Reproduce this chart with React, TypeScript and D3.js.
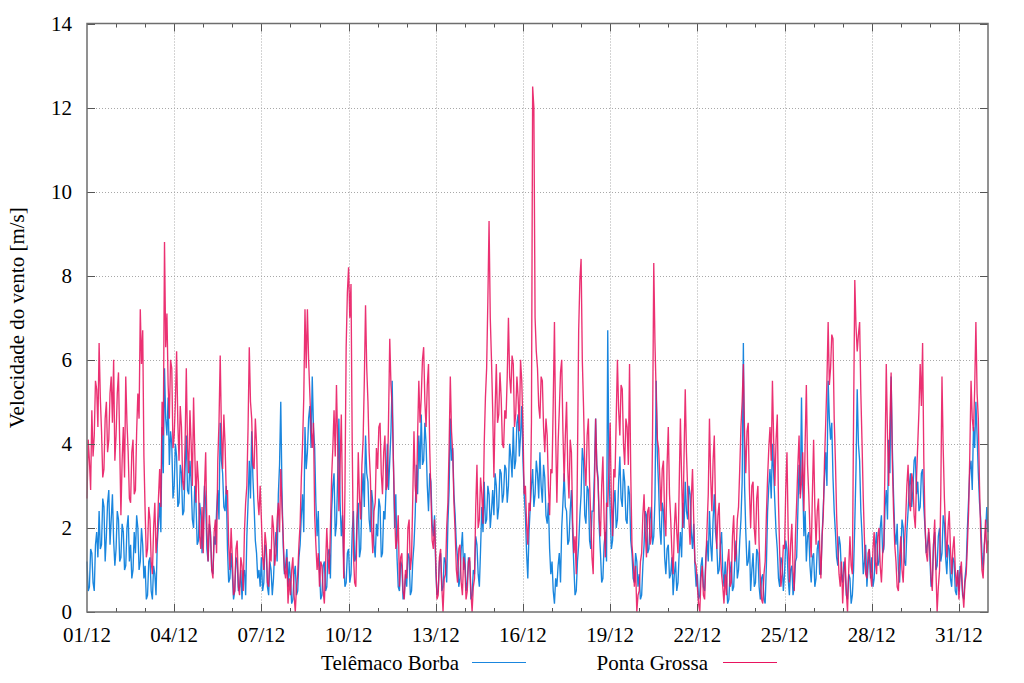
import React from "react";
import * as d3 from "d3";

// Wind speed, m/s, hourly, 01/12 00:00 .. 01/01 00:00
const telemacoBorba: number[] = [
  // 01/12
  1.2,0.5, 0.6,1.5, 1.4,0.7, 0.5,1.6, 1.9,1.3, 2.4,1.5, 1.6,2.7, 2.5,1.2, 1.8,2.6, 2.9,1.6, 2.2,2.8, 1.7,1.1,
  // 02/12
  1.5,2.4, 2.2,1.2, 1.3,2.1, 1.9,1.0, 1.1,2.0, 2.3,1.2, 1.6,0.8, 1.0,1.9, 1.4,2.3, 2.0,1.0, 1.2,2.0, 1.6,0.8,
  // 03/12
  1.1,0.3, 0.4,1.2, 1.3,0.5, 0.3,1.1, 0.9,0.4, 1.6,2.1, 2.6,1.9, 4.4,3.3, 5.8,4.6, 4.2,5.1, 3.5,4.3, 4.0,2.7,
  // 04/12
  3.0,4.0, 3.7,2.5, 2.6,3.5, 3.3,2.3, 2.4,3.4, 4.2,2.9, 2.8,3.6, 3.1,2.2, 2.0,3.0, 2.6,1.6, 1.7,2.6, 2.3,1.4,
  // 05/12
  2.0,3.0, 2.6,1.5, 1.2,2.1, 1.9,1.0, 0.9,1.8, 1.6,2.4, 2.9,2.2, 4.5,3.6, 3.3,2.5, 2.4,3.0, 1.5,0.7, 0.8,1.4,
  // 06/12
  0.9,0.3, 0.5,1.3, 1.2,0.5, 0.6,1.0, 0.3,0.9, 1.0,0.4, 1.8,2.6, 3.6,2.7, 4.3,3.2, 2.5,1.7, 1.4,0.8, 1.0,0.6,
  // 07/12
  1.3,0.5, 0.7,1.6, 1.5,0.6, 0.4,1.2, 1.0,0.4, 0.8,1.5, 1.9,1.2, 2.8,3.5, 5.0,2.9, 1.6,0.9, 1.1,1.5, 0.6,1.2,
  // 08/12
  0.8,0.2, 0.3,0.9, 1.1,0.4, 0.5,1.3, 1.6,2.3, 2.8,1.9, 4.4,3.4, 3.8,4.6, 4.9,3.9, 5.6,4.4, 3.9,2.6, 1.8,2.4,
  // 09/12
  1.0,0.3, 0.4,1.1, 1.2,0.5, 0.6,1.4, 1.5,0.8, 2.4,3.0, 3.3,1.8, 2.1,3.2, 4.6,2.6, 1.8,2.3, 1.2,0.6, 0.7,1.4,
  // 10/12
  1.5,0.7, 0.9,1.9, 2.4,1.2, 1.3,2.2, 2.6,1.3, 1.5,2.7, 3.3,2.5, 4.2,3.3, 3.1,2.2, 1.9,2.9, 2.6,1.6, 1.3,2.1,
  // 11/12
  1.8,2.7, 2.5,1.3, 1.4,2.4, 2.2,3.0, 4.0,2.9, 3.6,4.3, 5.5,3.6, 2.0,2.8, 1.3,0.6, 0.5,1.2, 1.1,0.3, 0.4,0.9,
  // 12/12
  0.6,1.4, 1.3,0.4, 0.5,1.2, 1.6,2.3, 3.5,2.8, 4.2,3.4, 4.7,3.5, 3.6,4.5, 4.0,3.0, 2.4,3.3, 3.1,2.1, 1.8,2.3,
  // 13/12
  1.0,0.4, 0.5,1.2, 1.4,0.5, 0.6,1.3, 1.2,0.7, 2.1,2.9, 4.6,3.6, 3.9,2.8, 2.3,1.6, 1.3,0.6, 0.8,1.5, 1.9,1.0,
  // 14/12
  1.4,0.5, 0.7,1.3, 1.2,0.3, 0.4,1.0, 0.9,1.8, 1.6,0.9, 0.6,1.5, 2.5,1.9, 3.1,2.1, 2.2,3.0, 2.8,2.0, 2.4,2.9,
  // 15/12
  2.3,3.3, 3.0,2.2, 2.5,3.4, 3.3,2.6, 2.8,3.5, 3.4,2.6, 3.0,4.0, 3.7,3.2, 4.4,3.4, 3.6,4.5, 4.7,3.7, 4.2,4.9,
  // 16/12
  3.6,2.8, 2.3,1.4, 0.8,1.9, 2.5,3.0, 3.4,2.5, 2.8,3.6, 3.3,2.7, 3.8,3.0, 2.6,3.5, 3.2,2.3, 2.1,2.6, 1.5,0.9,
  // 17/12
  1.2,0.5, 0.2,0.8, 0.6,1.1, 1.4,0.7, 2.0,2.6, 3.3,2.5, 2.4,1.6, 1.7,2.4, 2.9,1.9, 1.1,0.4, 0.5,1.2, 1.6,2.3,
  // 18/12
  2.8,3.9, 3.6,2.3, 2.1,3.0, 2.9,1.7, 1.5,2.4, 2.4,3.3, 4.6,3.5, 3.2,2.0, 1.4,0.7, 0.8,1.6, 1.9,1.2, 6.7,3.4,
  // 19/12
  2.4,1.5, 1.7,2.6, 2.9,2.0, 2.2,3.1, 3.7,2.7, 2.5,3.4, 3.1,2.2, 2.1,3.0, 2.8,1.7, 1.4,0.8, 0.7,1.4, 1.2,0.6,
  // 20/12
  0.9,0.3, 0.4,1.1, 1.6,2.4, 2.3,1.4, 1.5,2.2, 2.5,1.6, 1.8,2.7, 5.5,3.7, 3.0,2.0, 1.6,2.6, 2.4,1.3, 0.9,1.5,
  // 21/12
  1.6,0.8, 0.9,1.3, 0.4,0.9, 1.2,0.5, 0.7,1.4, 1.9,1.3, 2.6,2.0, 3.1,2.4, 2.2,3.0, 2.8,1.9, 1.5,2.1, 1.1,0.6,
  // 22/12
  0.9,0.3, 0.4,1.1, 1.3,0.6, 0.5,1.3, 1.7,1.2, 2.4,1.6, 1.2,2.2, 2.8,1.9, 1.6,0.9, 1.0,1.6, 1.9,1.0, 0.6,1.2,
  // 23/12
  0.8,0.2, 0.3,0.9, 1.2,0.5, 0.6,1.3, 1.7,0.8, 1.0,1.7, 2.2,3.1, 6.4,3.0, 1.9,1.1, 1.2,1.7, 0.5,1.0, 1.4,0.6,
  // 24/12
  0.7,1.5, 1.4,0.6, 0.3,0.8, 0.9,0.3, 0.2,1.1, 2.4,3.0, 3.4,2.7, 4.0,3.3, 2.6,1.9, 1.5,0.8, 0.6,1.3, 1.2,0.5,
  // 25/12
  0.9,1.7, 1.5,0.8, 0.4,1.0, 1.1,0.4, 0.6,1.2, 1.3,2.4, 3.5,2.8, 5.1,3.0, 1.8,2.4, 1.2,1.8, 1.9,1.1, 0.7,1.3,
  // 26/12
  1.4,0.6, 0.8,1.5, 1.7,0.9, 0.9,1.8, 2.5,3.2, 3.8,3.0, 5.5,4.6, 4.1,4.5, 3.2,2.4, 1.9,1.3, 1.1,1.8, 1.6,0.9,
  // 27/12
  0.7,1.2, 1.0,0.4, 0.3,0.9, 0.8,0.2, 0.4,1.0, 2.1,3.4, 5.3,4.0, 3.6,2.4, 1.8,0.9, 1.2,1.6, 0.6,1.1, 1.5,0.8,
  // 28/12
  1.3,0.6, 0.8,1.6, 1.9,1.1, 1.2,2.0, 2.3,1.4, 1.5,2.5, 2.9,2.2, 4.1,3.3, 5.6,3.9, 2.8,1.9, 1.6,2.1, 1.0,0.7,
  // 29/12
  1.4,2.2, 2.0,1.2, 1.1,1.9, 2.4,3.0, 3.3,2.5, 2.9,3.6, 3.7,2.8, 3.1,2.4, 2.5,3.3, 3.4,2.5, 2.0,1.4, 1.6,1.9,
  // 30/12
  1.3,0.6, 0.8,1.6, 1.9,1.0, 1.1,1.8, 2.0,1.2, 1.4,2.3, 2.1,1.3, 0.9,1.6, 1.5,0.8, 0.6,1.3, 1.2,0.5, 0.4,1.0,
  // 31/12
  0.5,1.1, 0.9,0.4, 0.3,0.8, 1.1,2.0, 2.7,3.4, 3.6,2.9, 4.4,3.9, 5.0,4.2, 3.3,2.6, 2.2,1.4, 1.0,1.6, 1.9,2.5,
  // 01/01
  1.9,
];

const pontaGrossa: number[] = [
  // 01/12
  2.7,4.1, 3.6,2.9, 4.8,3.7, 4.2,5.5, 5.3,4.4, 6.4,5.1, 4.3,3.2, 3.4,4.6, 5.0,3.8, 4.1,5.2, 5.6,4.5, 6.0,3.6,
  // 02/12
  4.2,5.2, 5.7,4.0, 2.3,3.6, 4.4,3.2, 5.6,4.5, 3.8,2.7, 2.6,3.8, 4.1,2.8, 2.9,4.3, 5.2,4.6, 7.2,5.9, 6.7,3.7,
  // 03/12
  2.4,1.3, 1.5,2.5, 2.2,1.2, 0.9,2.0, 2.6,1.4, 1.8,2.7, 3.4,2.5, 5.0,4.2, 8.8,6.3, 7.1,5.4, 4.6,6.0, 5.8,3.9,
  // 04/12
  4.2,5.0, 6.2,4.5, 3.6,4.9, 4.4,3.1, 2.9,4.0, 5.8,3.9, 3.3,4.8, 4.0,3.0, 5.1,3.8, 2.6,3.6, 3.1,1.8, 1.5,2.5,
  // 05/12
  1.4,2.9, 3.8,2.0, 1.2,2.3, 1.8,1.0, 0.8,1.9, 2.2,1.4, 3.6,4.5, 6.1,4.3, 3.4,4.7, 4.0,2.8, 2.9,1.6, 1.0,2.0,
  // 06/12
  1.3,0.4, 0.5,1.5, 1.7,0.6, 0.4,1.3, 1.1,0.5, 1.9,2.6, 3.0,4.4, 6.3,5.0, 4.6,3.5, 3.4,4.6, 4.0,2.7, 2.3,3.0,
  // 07/12
  2.2,1.3, 1.0,1.9, 1.6,0.7, 0.6,1.5, 1.2,2.3, 2.0,1.1, 1.4,2.2, 2.6,1.9, 3.4,2.5, 1.8,1.0, 0.8,1.3, 0.2,0.8,
  // 08/12
  0.4,1.0, 1.3,0.4, 0.0,0.6, 0.9,1.6, 2.1,3.2, 4.0,5.1, 7.2,5.8, 7.2,6.0, 5.2,4.4, 3.9,4.5, 2.3,1.6, 1.0,1.4,
  // 09/12
  0.6,1.2, 1.1,0.5, 0.2,1.1, 2.0,1.3, 0.9,2.0, 3.2,3.9, 4.8,3.7, 5.4,4.0, 2.4,3.5, 4.7,2.6, 0.8,2.9, 6.3,7.6,
  // 10/12
  8.2,7.0, 7.8,4.0, 1.4,0.7, 0.6,2.2, 3.8,2.7, 2.2,3.5, 4.1,5.5, 7.3,5.8, 5.0,3.8, 3.2,2.0, 1.4,2.4, 2.6,3.9,
  // 11/12
  3.4,4.4, 4.5,3.3, 2.8,3.8, 4.2,2.9, 3.0,4.6, 6.5,5.4, 4.9,3.6, 2.4,1.5, 1.7,2.3, 0.6,1.3, 1.4,0.5, 0.3,1.0,
  // 12/12
  0.8,2.0, 2.2,1.0, 1.3,2.7, 4.3,3.0, 2.6,4.2, 5.5,4.5, 5.1,6.0, 6.3,5.0, 4.4,5.4, 5.9,3.9, 2.8,1.7, 1.5,2.2,
  // 13/12
  1.2,0.3, 0.4,1.3, 1.5,0.6, 0.0,0.8, 0.9,2.0, 2.6,3.9, 5.6,4.3, 3.8,2.6, 1.9,1.0, 0.7,1.5, 1.6,0.7, 0.4,1.3,
  // 14/12
  1.1,0.3, 0.5,1.2, 1.3,0.5, 0.0,0.6, 0.8,2.5, 3.5,2.0, 2.2,3.2, 2.8,2.1, 4.0,5.1, 5.8,7.4, 9.3,7.0, 6.0,4.8,
  // 15/12
  3.2,4.8, 5.9,4.5, 4.7,5.7, 5.1,4.0, 3.9,4.8, 4.6,5.6, 7.0,5.6, 5.2,6.1, 5.9,4.4, 4.7,5.6, 5.1,4.3, 6.0,5.5,
  // 16/12
  4.4,2.8, 3.0,2.1, 1.6,2.6, 2.4,4.5, 12.5,12.0, 7.0,6.2, 5.8,4.9, 4.6,5.6, 5.5,4.4, 3.8,4.6, 4.2,3.0, 2.3,3.4,
  // 17/12
  3.3,5.0, 6.9,4.2, 2.6,4.0, 4.8,5.7, 6.0,4.3, 3.1,4.2, 5.0,3.4, 2.7,4.1, 3.8,2.2, 1.4,1.8, 0.9,3.6, 6.7,7.9,
  // 18/12
  8.4,6.0, 4.9,3.5, 3.0,4.2, 4.6,3.1, 2.2,1.3, 0.9,2.8, 4.6,3.4, 3.1,2.2, 1.8,3.0, 3.7,2.2, 1.3,2.6, 2.5,3.4,
  // 19/12
  4.5,2.6, 1.8,3.4, 3.2,4.6, 6.0,4.8, 4.2,5.4, 5.3,4.0, 3.5,4.6, 4.4,3.5, 5.9,3.3, 1.6,1.2, 0.6,1.1, 0.0,0.4,
  // 20/12
  0.5,1.2, 1.4,2.3, 2.8,1.9, 1.3,2.4, 2.5,1.6, 1.8,4.2, 8.3,6.4, 5.2,4.1, 3.9,3.2, 2.4,3.4, 3.6,2.2, 1.8,3.5,
  // 21/12
  4.4,2.8, 2.2,1.4, 0.9,2.0, 2.6,1.9, 1.4,3.0, 4.6,3.2, 2.0,3.7, 5.3,3.8, 2.9,2.2, 1.6,2.7, 3.4,2.2, 1.2,1.1,
  // 22/12
  0.6,0.2, 0.0,0.8, 1.1,0.4, 0.3,1.2, 2.0,2.8, 4.6,3.2, 2.4,3.6, 4.2,2.5, 1.5,2.3, 2.6,1.4, 0.9,0.6, 0.2,0.9,
  // 23/12
  0.4,1.2, 1.5,0.6, 0.7,1.8, 2.3,1.2, 1.4,2.2, 2.5,3.4, 4.4,5.0, 5.9,4.2, 3.3,4.3, 4.5,2.9, 2.0,3.0, 3.1,2.0,
  // 24/12
  1.6,2.7, 3.0,1.6, 0.8,0.3, 0.2,0.9, 1.2,2.3, 3.2,3.9, 4.4,3.6, 5.5,4.1, 3.0,4.1, 4.7,2.6, 1.4,0.6, 0.9,1.6,
  // 25/12
  1.5,2.9, 3.8,1.9, 0.7,1.6, 2.1,1.0, 0.5,1.8, 2.6,3.5, 4.2,2.7, 3.1,3.8, 2.4,4.0, 5.4,3.5, 2.8,1.9, 1.3,2.8,
  // 26/12
  4.1,2.5, 1.6,2.4, 2.7,1.6, 0.8,1.8, 2.3,3.6, 4.5,5.5, 6.9,5.4, 5.8,6.6, 6.5,4.6, 3.6,2.3, 1.5,0.9, 0.6,1.2,
  // 27/12
  0.2,0.9, 1.3,0.5, 0.0,1.0, 1.8,1.1, 0.9,4.6, 7.9,6.8, 6.2,6.6, 6.9,5.2, 4.0,2.7, 1.7,0.9, 0.8,1.4, 1.5,0.9,
  // 28/12
  0.6,1.5, 1.9,1.2, 0.9,1.8, 2.0,1.1, 0.7,1.4, 1.6,3.7, 5.9,4.2, 3.0,4.5, 5.7,3.6, 2.4,1.6, 1.2,0.6, 0.5,1.3,
  // 29/12
  1.8,1.0, 0.7,1.6, 2.2,3.0, 3.5,2.6, 2.4,3.3, 3.1,2.3, 2.0,3.2, 4.0,4.8, 5.9,4.9, 6.4,3.6, 2.1,1.4, 1.2,2.0,
  // 30/12
  1.6,0.8, 0.5,1.6, 2.2,1.0, 0.0,0.6, 1.0,2.8, 5.6,3.9, 2.7,1.9, 1.3,2.0, 2.4,1.5, 0.9,1.5, 1.8,1.0, 0.6,1.0,
  // 31/12
  0.3,0.9, 1.2,0.5, 0.1,0.7, 0.9,1.6, 2.4,3.8, 5.5,4.6, 4.3,5.3, 6.9,5.2, 4.6,3.0, 1.8,1.0, 0.8,1.6, 2.2,1.4,
  // 01/01
  1.7,
];

const samplesPerDay = 24;
const totalDays = 31;
const xTickLabels = ["01/12", "04/12", "07/12", "10/12", "13/12", "16/12", "19/12", "22/12", "25/12", "28/12", "31/12"];
const xTickDays = [0, 3, 6, 9, 12, 15, 18, 21, 24, 27, 30];
const yTicks = [0, 2, 4, 6, 8, 10, 12, 14];
const seriesNames = ["Telêmaco Borba", "Ponta Grossa"];
const seriesColors = ["#1a86de", "#e8145f"];

const W = 1024;
const H = 683;
const L = 87;
const R = 988;
const T = 23.5;
const B = 612;
const FONT = '"Liberation Serif", "Times New Roman", Times, "DejaVu Serif", serif';
const textStyle = { fontFamily: FONT };

export default function App() {
  const x = d3.scaleLinear().domain([0, totalDays]).range([L, R]);
  const y = d3.scaleLinear().domain([0, 14]).range([B, T]);

  const line = d3
    .line<number>()
    .x((_, i) => x(i / samplesPerDay))
    .y((d) => y(d));

  const minorDays = d3.range(1, totalDays);

  return (
    <svg
      width={W}
      height={H}
      style={{ position: "absolute", left: 0, top: 0, background: "#fff", fontFamily: FONT }}
    >
      <rect x={0} y={0} width={W} height={H} fill="#fff" />
      {/* grid */}
      <g stroke="#a8a8a8" strokeWidth={1} strokeDasharray="1,2">
        {yTicks
          .filter((t) => t > 0 && t < 14)
          .map((t) => (
            <line key={"gy" + t} x1={L} x2={R} y1={Math.round(y(t)) + 0.5} y2={Math.round(y(t)) + 0.5} />
          ))}
        {xTickDays
          .filter((d) => d > 0)
          .map((d) => (
            <line key={"gx" + d} x1={Math.round(x(d)) + 0.5} x2={Math.round(x(d)) + 0.5} y1={T} y2={B} />
          ))}
      </g>

      {/* series */}
      <path d={line(telemacoBorba) || ""} fill="none" stroke={seriesColors[0]} strokeWidth={1.35} strokeLinejoin="miter" />
      <path d={line(pontaGrossa) || ""} fill="none" stroke={seriesColors[1]} strokeWidth={1.35} strokeOpacity={0.88} strokeLinejoin="miter" />

      {/* ticks */}
      <g stroke="#555" strokeWidth={1}>
        {yTicks.map((t) => (
          <g key={"ty" + t}>
            <line x1={L} x2={L + 8} y1={Math.round(y(t)) + 0.5} y2={Math.round(y(t)) + 0.5} />
            <line x1={R - 8} x2={R} y1={Math.round(y(t)) + 0.5} y2={Math.round(y(t)) + 0.5} />
          </g>
        ))}
        {minorDays.map((d) => {
          const major = d % 3 === 0;
          const len = major ? 8 : 4;
          const xx = Math.round(x(d)) + 0.5;
          return (
            <g key={"tx" + d}>
              <line x1={xx} x2={xx} y1={B} y2={B - len} />
              <line x1={xx} x2={xx} y1={T} y2={T + len} />
            </g>
          );
        })}
      </g>

      {/* frame */}
      <rect x={L} y={T} width={R - L} height={B - T} fill="none" stroke="#6e6e6e" strokeWidth={1.5} />

      {/* tick labels */}
      <g fontSize={21} fill="#000">
        {yTicks.map((t) => (
          <text key={"ly" + t} x={72} y={y(t) + 7} textAnchor="end" style={textStyle}>
            {t}
          </text>
        ))}
        {xTickDays.map((d, i) => (
          <text key={"lx" + d} x={x(d)} y={642} textAnchor="middle" style={textStyle}>
            {xTickLabels[i]}
          </text>
        ))}
      </g>

      {/* axis label */}
      <text
        transform={`translate(24, ${(T + B) / 2}) rotate(-90)`}
        textAnchor="middle"
        fontSize={21}
        fill="#000"
        style={textStyle}
      >
        Velocidade do vento [m/s]
      </text>

      {/* legend */}
      <g fontSize={21} fill="#000">
        <text x={459} y={670} textAnchor="end" style={textStyle}>
          {seriesNames[0]}
        </text>
        <line x1={472} x2={526} y1={662.5} y2={662.5} stroke={seriesColors[0]} strokeWidth={1} />
        <text x={708} y={670} textAnchor="end" style={textStyle}>
          {seriesNames[1]}
        </text>
        <line x1={723} x2={777} y1={662.5} y2={662.5} stroke={seriesColors[1]} strokeWidth={1} />
      </g>
    </svg>
  );
}
